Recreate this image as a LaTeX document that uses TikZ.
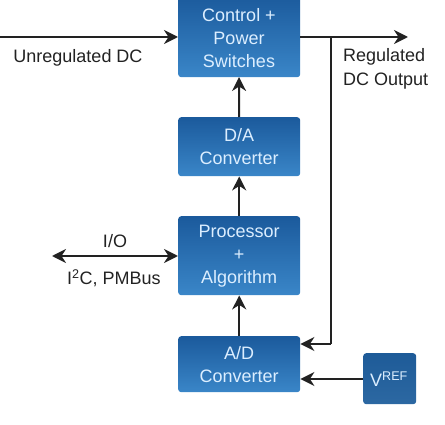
\documentclass[tikz,border=0pt]{standalone}
\usepackage{fontspec}
\setmainfont{Liberation Sans}
\usetikzlibrary{arrows.meta,positioning}
\definecolor{boxtop}{HTML}{1B5A9C}
\definecolor{boxbot}{HTML}{3A86C8}
\definecolor{vtop}{HTML}{1E5B98}
\definecolor{vbot}{HTML}{2C68A2}
\definecolor{btxt}{HTML}{DCEEFF}
\definecolor{ln}{HTML}{222222}
\definecolor{lbl}{HTML}{222222}
\tikzset{
  blk/.style={rounded corners=3pt, top color=boxtop, bottom color=boxbot, draw=none,
    text=btxt, align=center, font=\fontsize{18}{23}\selectfont, inner sep=0pt},
  tip/.tip={Stealth[length=14pt,width=14pt,inset=4.5pt]},
  conn/.style={draw=ln, line width=2pt, -tip},
  lab/.style={text=lbl, font=\fontsize{18}{23}\selectfont, inner sep=0pt}
}
\begin{document}
\begin{tikzpicture}[x=1pt,y=-1pt]
\useasboundingbox (0,0) rectangle (445,425);
\begin{scope}
\clip (0,0) rectangle (445,425);
\node[blk, minimum width=122pt, minimum height=82pt, anchor=north west] (ctrl) at (178,-5) {};
\end{scope}
\node[text=btxt, align=center, font=\fontsize{18}{23}\selectfont, inner sep=0pt] (ctrltxt) at (239,38) {Control +\\Power\\Switches};
\node[blk, minimum width=122pt, minimum height=59pt, anchor=north west] (da) at (178,117) {D/A\\Converter};
\node[blk, minimum width=122pt, minimum height=79pt, anchor=north west] (proc) at (178,216) {Processor\\+\\Algorithm};
\node[blk, minimum width=122pt, minimum height=56pt, anchor=north west] (ad) at (178,336) {A/D\\Converter};
\node[rounded corners=3pt, top color=vtop, bottom color=vbot, minimum width=53pt, minimum height=51pt, anchor=north west, inner sep=0pt] (vref) at (363,353) {};
\node[text=btxt, font=\fontsize{18}{23}\selectfont, inner sep=0pt] (vreft) at (389,379) {V\textsuperscript{REF}};

\coordinate (inL) at (0,37);
\coordinate (outR) at (408,37);
\coordinate (tap) at (331,37);
\coordinate (tapb) at (331,344);
\coordinate (ioL) at (52,256);

\draw[conn] (inL) -- (178,37);
\draw[conn] (300,37) -- (outR);
\draw[draw=ln, line width=2pt] (tap) -- (tapb);
\draw[conn] (tapb) -- (ad.east |- tapb);
\draw[conn] (vref.west |- 0,379) -- (ad.east |- 0,379);
\draw[conn] (ad.north) -- (proc.south);
\draw[conn] (proc.north) -- (da.south);
\draw[conn] (da.north) -- (239,77);
\draw[draw=ln, line width=2pt, tip-tip] (ioL) -- (proc.west |- ioL);

\node[lab] (unreg) at (78,58) {Unregulated DC};
\node[lab, align=left, anchor=north west, font=\fontsize{18}{24}\selectfont] (reg) at (343,48) {Regulated\\DC Output};
\node[lab] (io) at (115,241) {I/O};
\node[lab] (i2c) at (114,278) {I\textsuperscript{2}C, PMBus};
\end{tikzpicture}
\end{document}
